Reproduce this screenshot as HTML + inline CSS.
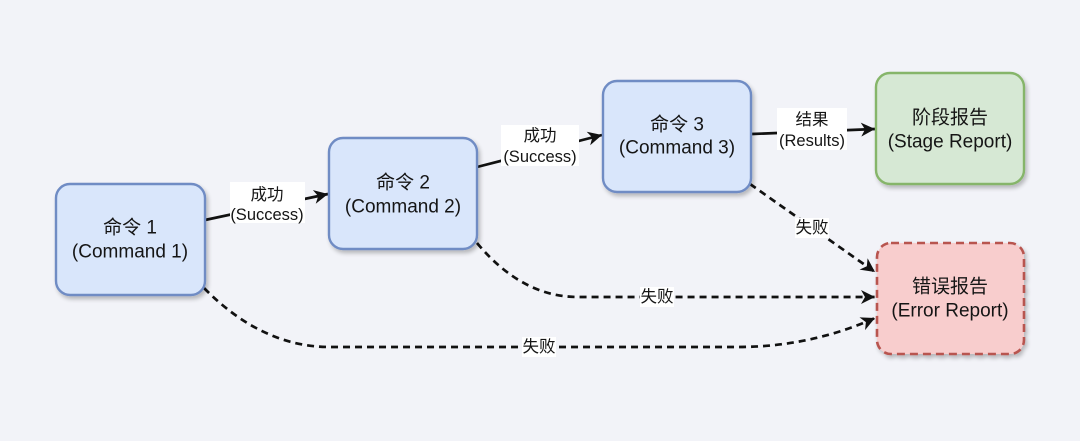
<!DOCTYPE html>
<html>
<head>
<meta charset="utf-8">
<style>
  html,body{margin:0;padding:0;background:#f2f3f8;}
  body{width:1080px;height:441px;overflow:hidden;}
  svg{display:block;}
  .n{font-family:"Liberation Sans","Noto Sans CJK SC",sans-serif;font-size:19px;fill:#151515;text-anchor:middle;dominant-baseline:central;}
  .l{font-family:"Liberation Sans","Noto Sans CJK SC",sans-serif;font-size:16.5px;fill:#151515;text-anchor:middle;dominant-baseline:central;}
</style>
</head>
<body>
<svg width="1080" height="441" viewBox="0 0 1080 441" xmlns="http://www.w3.org/2000/svg">
  <defs>
    <filter id="sh" x="-20%" y="-20%" width="140%" height="150%">
      <feGaussianBlur in="SourceAlpha" stdDeviation="2.2"/>
      <feOffset dx="2" dy="3" result="b"/>
      <feComponentTransfer><feFuncA type="linear" slope="0.25"/></feComponentTransfer>
      <feMerge><feMergeNode/><feMergeNode in="SourceGraphic"/></feMerge>
    </filter>
    <marker id="ar" markerUnits="userSpaceOnUse" markerWidth="18" markerHeight="16" refX="14" refY="7" orient="auto">
      <path d="M0,0 L14,7 L0,14 L4,7 Z" fill="#111"/>
    </marker>
  </defs>

  <rect width="1080" height="441" fill="#f2f3f8"/>

  <!-- connectors -->
  <g fill="none" stroke="#111" stroke-width="2.7">
    <line x1="205" y1="220" x2="328" y2="194" marker-end="url(#ar)"/>
    <line x1="477" y1="167" x2="602" y2="135" marker-end="url(#ar)"/>
    <line x1="752" y1="134" x2="875" y2="129" marker-end="url(#ar)"/>
  </g>
  <g fill="none" stroke="#111" stroke-width="2.7" stroke-dasharray="7 5">
    <path d="M750,184 L875,272" marker-end="url(#ar)"/>
    <path d="M477,243 Q522,297 578,297 L875,297" marker-end="url(#ar)"/>
    <path d="M204,288 Q262,347 330,347 L738,347 Q810,347 875,318" marker-end="url(#ar)"/>
  </g>

  <!-- label backgrounds -->
  <g fill="#ffffff">
    <rect x="230" y="182" width="75" height="41"/>
    <rect x="501" y="125" width="78" height="41"/>
    <rect x="777" y="108" width="70" height="42"/>
    <rect x="795" y="218" width="34" height="20"/>
    <rect x="640" y="287" width="34" height="20"/>
    <rect x="522" y="337" width="34" height="20"/>
  </g>

  <!-- labels -->
  <text class="l" x="267" y="195">成功</text>
  <text class="l" x="267" y="215">(Success)</text>
  <text class="l" x="540" y="136">成功</text>
  <text class="l" x="540" y="157">(Success)</text>
  <text class="l" x="812" y="120">结果</text>
  <text class="l" x="812" y="141">(Results)</text>
  <text class="l" x="812" y="228">失败</text>
  <text class="l" x="657" y="297">失败</text>
  <text class="l" x="539" y="347">失败</text>

  <!-- nodes -->
  <g filter="url(#sh)" stroke-width="2.4">
    <rect x="56" y="184" width="149" height="111" rx="14" fill="#d9e6fb" stroke="#6f8cc4"/>
    <rect x="329" y="138" width="148" height="111" rx="14" fill="#d9e6fb" stroke="#6f8cc4"/>
    <rect x="603" y="81" width="148" height="111" rx="14" fill="#d9e6fb" stroke="#6f8cc4"/>
    <rect x="876" y="73" width="148" height="111" rx="14" fill="#d6e8d4" stroke="#86b56b"/>
    <rect x="877" y="243" width="147" height="111" rx="14" fill="#f8cdcd" stroke="#b85450" stroke-width="2.6" stroke-dasharray="8 5"/>
  </g>

  <text class="n" x="130" y="228">命令 1</text>
  <text class="n" x="130" y="252">(Command 1)</text>
  <text class="n" x="403" y="183">命令 2</text>
  <text class="n" x="403" y="207">(Command 2)</text>
  <text class="n" x="677" y="125">命令 3</text>
  <text class="n" x="677" y="148">(Command 3)</text>
  <text class="n" x="950" y="118">阶段报告</text>
  <text class="n" x="950" y="142">(Stage Report)</text>
  <text class="n" x="950" y="287">错误报告</text>
  <text class="n" x="950" y="311">(Error Report)</text>
</svg>
</body>
</html>
